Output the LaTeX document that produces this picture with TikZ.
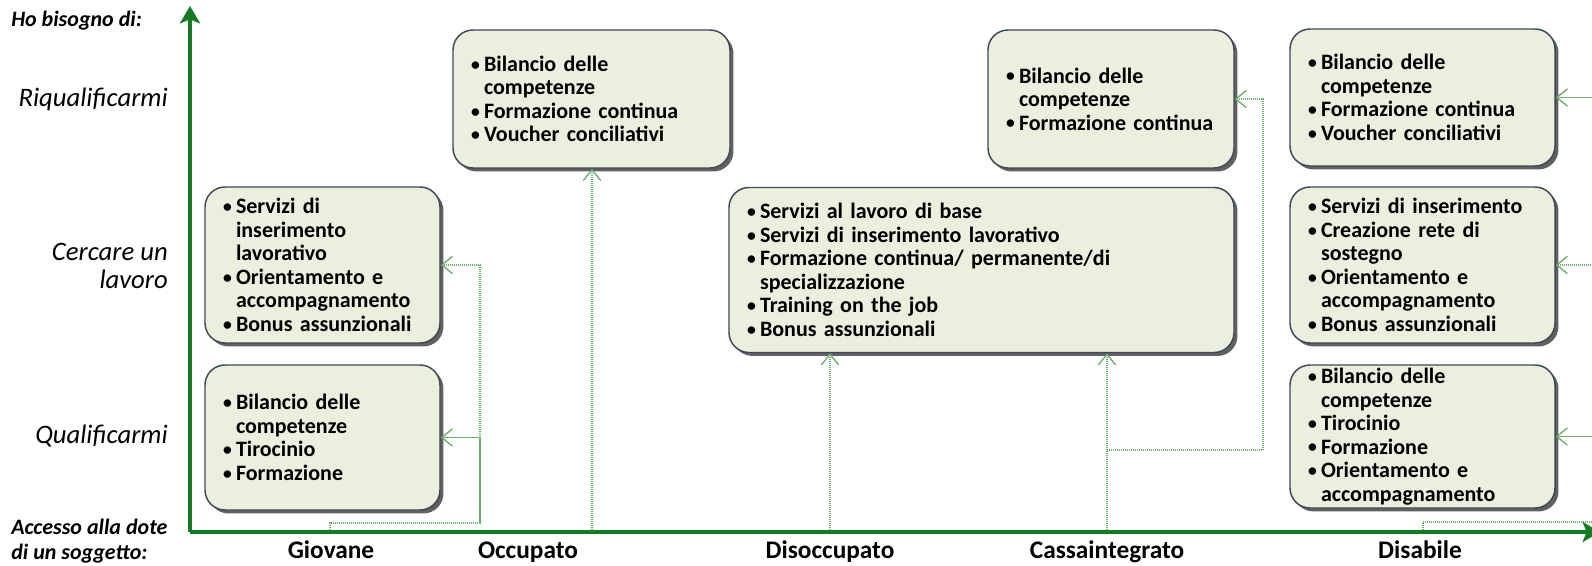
\documentclass[tikz,border=0pt]{standalone}
\usepackage{fontspec}
\setmainfont{Carlito}
\usetikzlibrary{arrows.meta,shadows}
\definecolor{axisgreen}{RGB}{22,122,34}
\definecolor{linkgreen}{RGB}{110,172,112}
\definecolor{panelfill}{RGB}{234,239,222}
\definecolor{paneledge}{RGB}{62,72,88}
\newcommand{\bl}{\makebox[9.75pt][l]{\raisebox{0.12ex}{\scalebox{0.8}{\textbullet}}}}
\newcommand{\ind}{\hspace*{9.75pt}}
\tikzset{
  panel/.style={draw=paneledge, line width=1.1pt, fill=panelfill,
    rounded corners=15pt, align=left, inner xsep=13.5pt, inner ysep=2pt,
    font=\fontsize{16.5}{17.6}\selectfont\bfseries,
    copy shadow={shadow xshift=2.6pt, shadow yshift=-2.6pt, fill=black!62, draw=none}},
  axisline/.style={draw=axisgreen, line width=3.6pt,
    -{Stealth[length=13pt, width=15pt, inset=3pt]}},
  link/.style={draw=linkgreen, line width=1.1pt, dash pattern=on 1pt off 0.5pt,
    -{Straight Barb[length=8pt, width=13pt, line width=1pt]}},
  linkplain/.style={draw=linkgreen, line width=1.1pt, dash pattern=on 1pt off 0.5pt},
  need/.style={font=\fontsize{20}{21}\selectfont\itshape, align=right, inner sep=0pt},
  who/.style={font=\fontsize{19}{22}\selectfont\bfseries, inner sep=0pt, anchor=base},
  head/.style={font=\fontsize{16.5}{19}\selectfont\bfseries\itshape, align=left, inner sep=0pt}
}
\begin{document}
\begin{tikzpicture}[x=0.75pt, y=-0.75pt]
\path[use as bounding box] (0,0) rectangle (1592,566);
\clip (0,0) rectangle (1592,566);

% axes
\coordinate (o) at (190,532);
\coordinate (ytop) at (190,6);
\coordinate (xend) at (1600,532);

% row labels
\node[head, anchor=west] (hb) at (11,21) {Ho bisogno di:};
\node[need, anchor=east] (lr) at (168,99) {Riqualificarmi};
\node[need, anchor=east] (lc) at (168,266) {Cercare un\\lavoro};
\node[need, anchor=east] (lq) at (168,436) {Qualificarmi};
\node[head, anchor=west] (ac) at (11,541) {Accesso alla dote\\di un soggetto:};

% column labels
\node[who] (cg) at (331,558) {Giovane};
\node[who] (co) at (528,558) {Occupato};
\node[who] (cd) at (830,558) {Disoccupato};
\node[who] (cc) at (1107,558) {Cassaintegrato};
\node[who] (cb) at (1420,558) {Disabile};

% panels: Giovane
\node[panel, minimum width=176.25pt, minimum height=117pt, text width=149.25pt] (gc) at (322.5,265)
  {\bl Servizi di\\ \ind inserimento\\ \ind lavorativo\\ \bl Orientamento e\\ \ind accompagnamento\\ \bl Bonus assunzionali};
\node[panel, minimum width=176.25pt, minimum height=108.75pt, text width=149.25pt] (gq) at (322.5,437.5)
  {\bl Bilancio delle\\ \ind competenze\\ \bl Tirocinio\\ \bl Formazione};

% panel: Occupato
\node[panel, minimum width=207.75pt, minimum height=103.5pt, text width=180.75pt] (or) at (591.5,99)
  {\bl Bilancio delle\\ \ind competenze\\ \bl Formazione continua\\ \bl Voucher conciliativi};

% panel: Disoccupato / Cassaintegrato
\node[panel, minimum width=378.75pt, minimum height=123.75pt, text width=351.75pt] (dis) at (981.5,270)
  {\bl Servizi al lavoro di base\\ \bl Servizi di inserimento lavorativo\\ \bl Formazione continua/ permanente/di\\ \ind specializzazione\\ \bl Training on the job\\ \bl Bonus assunzionali};

% panel: Cassaintegrato
\node[panel, minimum width=184.5pt, minimum height=103.5pt, text width=157.5pt] (cr) at (1111,99)
  {\bl Bilancio delle\\ \ind competenze\\ \bl Formazione continua};

% panels: Disabile
\node[panel, minimum width=198.75pt, minimum height=102.75pt, text width=171.75pt] (dr) at (1422.5,97.5)
  {\bl Bilancio delle\\ \ind competenze\\ \bl Formazione continua\\ \bl Voucher conciliativi};
\node[panel, minimum width=198.75pt, minimum height=117pt, text width=171.75pt] (dc) at (1422.5,265)
  {\bl Servizi di inserimento\\ \bl Creazione rete di\\ \ind sostegno\\ \bl Orientamento e\\ \ind accompagnamento\\ \bl Bonus assunzionali};
\node[panel, minimum width=198.75pt, minimum height=107.25pt, text width=171.75pt] (dq) at (1422.5,436.5)
  {\bl Bilancio delle\\ \ind competenze\\ \bl Tirocinio\\ \bl Formazione\\ \bl Orientamento e\\ \ind accompagnamento};

% connectors from the horizontal axis
\coordinate (gA) at (330,532);
\coordinate (gJ) at (480,523);
\draw[link] (gA) |- (gJ) |- (gc.east);
\draw[link] (gJ) |- (gq.east);

\coordinate (oA) at (592,532);
\draw[link] (oA) -- (oA |- or.south);

\coordinate (dA) at (830,532);
\draw[link] (dA) -- (dA |- dis.south);

\coordinate (kA) at (1107,532);
\coordinate (kJ) at (1263,450);
\draw[link] (kA) -- (kA |- dis.south);
\draw[linkplain] (kA |- kJ) -- (kJ);
\draw[link] (kJ) |- (cr.east);

\coordinate (bA) at (1423,532);
\coordinate (bJ) at (1612,522);
\draw[link] (bA) |- (bJ) |- (dr.east);
\draw[link] (bJ) |- (dc.east);
\draw[link] (bJ) |- (dq.east);

% axes on top
\draw[axisline] (o) -- (ytop);
\draw[axisline] (o) -- (xend);
\end{tikzpicture}
\end{document}
